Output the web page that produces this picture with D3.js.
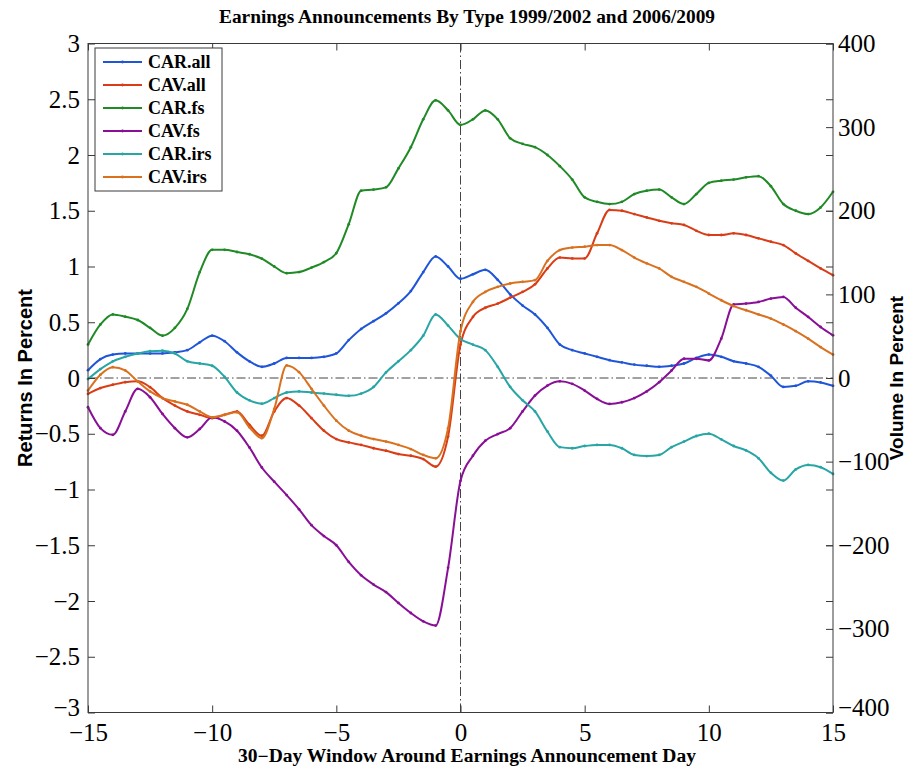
<!DOCTYPE html>
<html>
<head>
<meta charset="utf-8">
<script src="https://cdn.jsdelivr.net/npm/d3@7/dist/d3.min.js"></script>
<style>
  html, body { margin: 0; padding: 0; background: #fff; }
  svg { display: block; }
</style>
</head>
<body>
<svg id="chart" width="915" height="766"></svg>
<script>
// Event days around the announcement (day 0)
const days = [-15,-14.5,-14,-13.5,-13,-12.5,-12,-11.5,-11,-10.5,-10,-9.5,-9,-8.5,-8,-7.5,-7,-6.5,-6,-5.5,-5,-4.5,-4,-3.5,-3,-2.5,-2,-1.5,-1,-0.5,0,0.5,1,1.5,2,2.5,3,3.5,4,4.5,5,5.5,6,6.5,7,7.5,8,8.5,9,9.5,10,10.5,11,11.5,12,12.5,13,13.5,14,14.5,15];

// Cumulative abnormal returns (left axis, percent)
const carAll = [0.07,0.17,0.21,0.22,0.22,0.22,0.22,0.23,0.25,0.32,0.38,0.33,0.23,0.15,0.10,0.13,0.18,0.18,0.18,0.19,0.22,0.34,0.44,0.51,0.58,0.67,0.78,0.95,1.09,1.00,0.89,0.93,0.97,0.88,0.75,0.65,0.57,0.45,0.30,0.25,0.22,0.19,0.16,0.14,0.12,0.11,0.10,0.11,0.13,0.18,0.21,0.19,0.15,0.13,0.10,0.02,-0.08,-0.07,-0.03,-0.04,-0.07];
const carFs = [0.30,0.48,0.57,0.55,0.52,0.45,0.38,0.45,0.62,0.95,1.15,1.15,1.13,1.11,1.07,1.00,0.94,0.95,0.99,1.04,1.12,1.38,1.68,1.69,1.71,1.88,2.07,2.32,2.49,2.40,2.27,2.32,2.40,2.32,2.15,2.10,2.07,2.00,1.90,1.78,1.62,1.58,1.56,1.58,1.65,1.68,1.69,1.62,1.56,1.65,1.75,1.77,1.78,1.80,1.81,1.72,1.56,1.50,1.47,1.53,1.67];
const carIrs = [-0.01,0.08,0.15,0.19,0.22,0.24,0.245,0.22,0.15,0.13,0.11,0.01,-0.13,-0.20,-0.23,-0.18,-0.13,-0.12,-0.13,-0.14,-0.15,-0.16,-0.14,-0.08,0.05,0.15,0.25,0.38,0.57,0.47,0.35,0.30,0.25,0.10,-0.08,-0.20,-0.30,-0.48,-0.62,-0.63,-0.61,-0.60,-0.60,-0.63,-0.69,-0.70,-0.69,-0.62,-0.57,-0.52,-0.50,-0.55,-0.61,-0.65,-0.72,-0.85,-0.92,-0.82,-0.78,-0.80,-0.86];

// Cumulative abnormal volume (right axis, percent)
const cavAll = [-19,-12,-8,-5,-4,-11,-24,-33,-40,-44,-48,-44,-40,-56,-69,-40,-24,-33,-48,-63,-73,-77,-80,-84,-87,-91,-93,-97,-106,-70,40,73,84,89,96,103,112,131,144,143,143,173,201,200,196,192,188,185,183,176,171,171,173,171,167,163,159,149,140,131,123];
const cavFs = [-35,-60,-68,-40,-13,-23,-43,-60,-71,-61,-47,-52,-63,-83,-107,-124,-140,-157,-176,-189,-200,-220,-236,-247,-256,-269,-281,-291,-296,-227,-123,-93,-75,-67,-60,-40,-21,-9,-4,-7,-15,-25,-31,-29,-24,-16,-5,9,23,23,21,47,88,89,91,95,97,84,73,61,51];
const cavIrs = [-15,4,13,9,-4,-16,-24,-28,-32,-40,-47,-44,-41,-59,-72,-37,15,7,-13,-33,-51,-63,-69,-73,-76,-80,-85,-92,-96,-60,56,91,103,109,113,115,117,140,153,156,157,159,159,153,144,137,131,121,115,109,101,93,86,81,76,71,64,56,47,37,28];

// Axis ticks
const xTicks = [-15,-10,-5,0,5,10,15];
const leftTicks = [-3,-2.5,-2,-1.5,-1,-0.5,0,0.5,1,1.5,2,2.5,3];
const rightTicks = [-400,-300,-200,-100,0,100,200,300,400];

const seriesNames = ["CAR.all","CAV.all","CAR.fs","CAV.fs","CAR.irs","CAV.irs"];
const seriesValues = [carAll, cavAll, carFs, cavFs, carIrs, cavIrs];
const seriesAxis = ["left","right","left","right","left","right"];
const seriesColors = ["#1f55d8","#d93c16","#1f8a26","#880f96","#28a5a5","#d9711f"];

const svg = d3.select("#chart");
const margin = {left: 88, right: 833, top: 43.5, bottom: 712.5};

const x = d3.scaleLinear().domain([-15, 15]).range([margin.left, margin.right]);
const yL = d3.scaleLinear().domain([-3, 3]).range([margin.bottom, margin.top]);
const yR = d3.scaleLinear().domain([-400, 400]).range([margin.bottom, margin.top]);

const serif = "'Liberation Serif', 'Times New Roman', serif";
const sans = "'Liberation Sans', Arial, sans-serif";
const axisColor = "#3a3a3a";
const tickLen = 7;
const tickFont = 25;
const minusFmt = d => d < 0 ? "\u2212" + Math.abs(d) : String(d);

// Zero reference lines (dash-dot)
svg.append("line")
  .attr("x1", x(-15)).attr("x2", x(15))
  .attr("y1", yL(0)).attr("y2", yL(0))
  .attr("stroke", "#444").attr("stroke-width", 1)
  .attr("stroke-dasharray", "9,3,1.5,3");
svg.append("line")
  .attr("x1", x(0)).attr("x2", x(0))
  .attr("y1", yL(3)).attr("y2", yL(-3))
  .attr("stroke", "#444").attr("stroke-width", 1)
  .attr("stroke-dasharray", "9,3,1.5,3");

// Series lines with small point markers
const plot = svg.append("g");
seriesValues.forEach((vals, i) => {
  const ys = seriesAxis[i] === "left" ? yL : yR;
  const pts = days.map((d, k) => [d, vals[k]]);
  const line = d3.line()
    .x(p => x(p[0]))
    .y(p => ys(p[1]))
    .curve(d3.curveMonotoneX);
  plot.append("path")
    .attr("d", line(pts))
    .attr("fill", "none")
    .attr("stroke", seriesColors[i])
    .attr("stroke-width", 2);
  plot.append("g").selectAll("circle")
    .data(pts)
    .join("circle")
    .attr("cx", p => x(p[0]))
    .attr("cy", p => ys(p[1]))
    .attr("r", 1.4)
    .attr("fill", seriesColors[i]);
});

// Frame
svg.append("rect")
  .attr("x", margin.left).attr("y", margin.top)
  .attr("width", margin.right - margin.left)
  .attr("height", margin.bottom - margin.top)
  .attr("fill", "none").attr("stroke", axisColor).attr("stroke-width", 1);

// Bottom axis (ticks inward, mirrored at top)
const bottomAxis = d3.axisBottom(x).tickValues(xTicks).tickSizeInner(-tickLen).tickSizeOuter(0)
  .tickPadding(11).tickFormat(minusFmt);
const gB = svg.append("g").attr("transform", `translate(0,${margin.bottom})`).call(bottomAxis);
gB.select(".domain").remove();
gB.selectAll("line").attr("stroke", axisColor);
gB.selectAll("text").attr("font-family", serif).attr("font-size", tickFont).attr("fill", "#000");

const gT = svg.append("g").attr("transform", `translate(0,${margin.top})`)
  .call(d3.axisTop(x).tickValues(xTicks).tickSizeInner(-tickLen).tickSizeOuter(0).tickFormat(""));
gT.select(".domain").remove();
gT.selectAll("line").attr("stroke", axisColor);

// Left axis
const leftAxis = d3.axisLeft(yL).tickValues(leftTicks).tickSizeInner(-tickLen).tickSizeOuter(0)
  .tickPadding(8).tickFormat(minusFmt);
const gL = svg.append("g").attr("transform", `translate(${margin.left},0)`).call(leftAxis);
gL.select(".domain").remove();
gL.selectAll("line").attr("stroke", axisColor);
gL.selectAll("text").attr("font-family", serif).attr("font-size", tickFont).attr("fill", "#000");
// lift the bottom corner label clear of the x tick labels
gL.selectAll(".tick").filter(d => d === -3).select("text").attr("dy", "0.12em");

// Left ticks mirrored on the right edge
const gLm = svg.append("g").attr("transform", `translate(${margin.right},0)`)
  .call(d3.axisRight(yL).tickValues(leftTicks).tickSizeInner(-tickLen).tickSizeOuter(0).tickFormat(""));
gLm.select(".domain").remove();
gLm.selectAll("line").attr("stroke", axisColor);

// Right axis
const rightAxis = d3.axisRight(yR).tickValues(rightTicks).tickSizeInner(-tickLen).tickSizeOuter(0)
  .tickPadding(5).tickFormat(minusFmt);
const gR = svg.append("g").attr("transform", `translate(${margin.right},0)`).call(rightAxis);
gR.select(".domain").remove();
gR.selectAll("line").attr("stroke", axisColor);
gR.selectAll("text").attr("font-family", serif).attr("font-size", tickFont).attr("fill", "#000");
gR.selectAll(".tick").filter(d => d === -400).select("text").attr("dy", "0.12em");

// Title
svg.append("text")
  .attr("x", 467).attr("y", 23)
  .attr("text-anchor", "middle")
  .attr("font-family", serif).attr("font-weight", "bold").attr("font-size", 18)
  .attr("textLength", 496).attr("lengthAdjust", "spacingAndGlyphs")
  .text("Earnings Announcements By Type 1999/2002 and 2006/2009");

// Axis labels
svg.append("text")
  .attr("x", 467).attr("y", 762)
  .attr("text-anchor", "middle")
  .attr("font-family", serif).attr("font-weight", "bold").attr("font-size", 18)
  .attr("textLength", 458).attr("lengthAdjust", "spacingAndGlyphs")
  .text("30\u2212Day Window Around Earnings Announcement Day");

svg.append("text")
  .attr("transform", `translate(32,${yL(0)}) rotate(-90)`)
  .attr("text-anchor", "middle")
  .attr("font-family", sans).attr("font-weight", "bold").attr("font-size", 20)
  .text("Returns In Percent");

svg.append("text")
  .attr("transform", `translate(903,${yR(0)}) rotate(-90)`)
  .attr("text-anchor", "middle")
  .attr("font-family", sans).attr("font-weight", "bold").attr("font-size", 19)
  .text("Volume In Percent");

// Legend
const legend = svg.append("g").attr("transform", "translate(95,48)");
legend.append("rect")
  .attr("width", 127).attr("height", 143)
  .attr("fill", "#fff").attr("stroke", axisColor).attr("stroke-width", 1);
seriesNames.forEach((name, i) => {
  const yy = 14 + i * 23;
  legend.append("line")
    .attr("x1", 8).attr("x2", 47).attr("y1", yy).attr("y2", yy)
    .attr("stroke", seriesColors[i]).attr("stroke-width", 2);
  legend.append("circle")
    .attr("cx", 27.5).attr("cy", yy).attr("r", 1.4).attr("fill", seriesColors[i]);
  legend.append("text")
    .attr("x", 53).attr("y", yy + 6)
    .attr("font-family", serif).attr("font-weight", "bold").attr("font-size", 18)
    .text(name);
});
</script>
</body>
</html>
